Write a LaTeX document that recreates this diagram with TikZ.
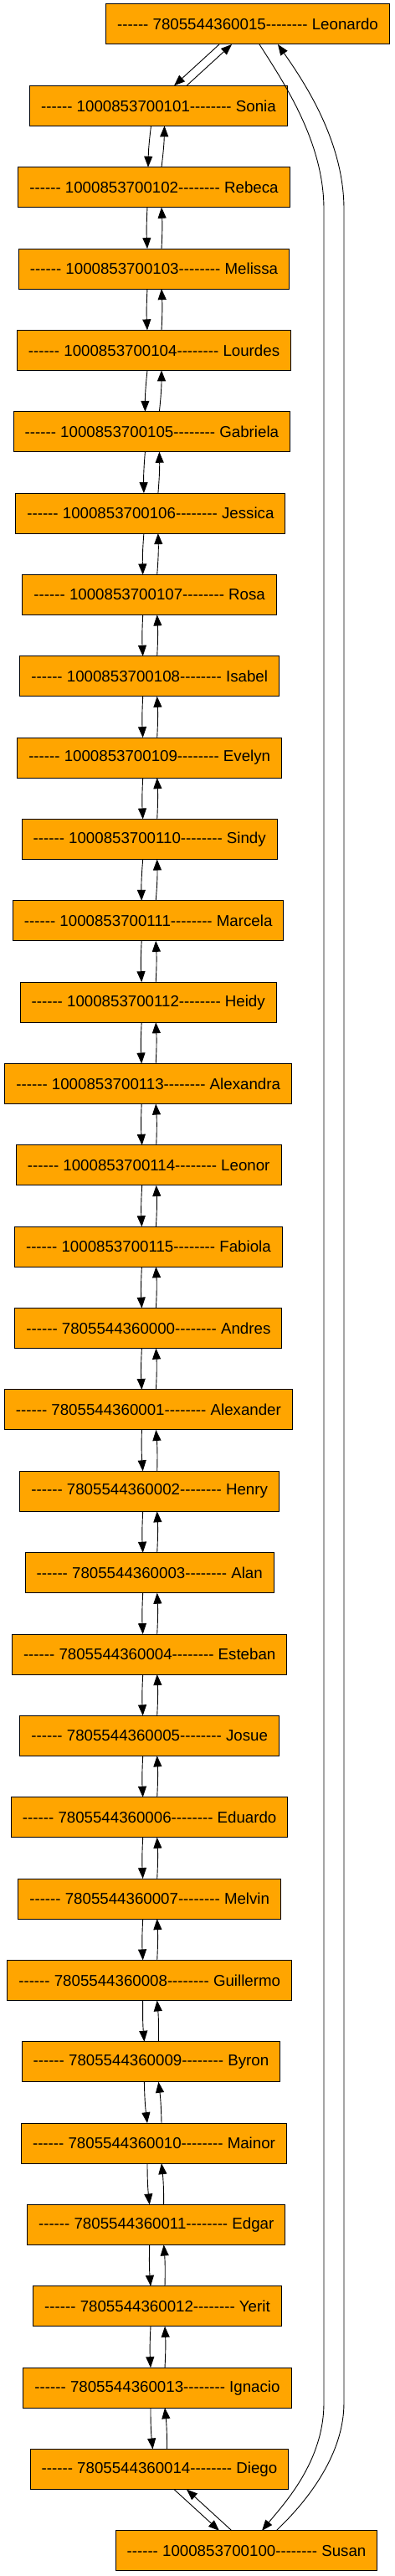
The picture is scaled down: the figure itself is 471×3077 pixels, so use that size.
\documentclass[tikz,border=0pt]{standalone}
\usepackage{fontspec}
\newfontfamily\labelfont[Ligatures=TeXOff]{Liberation Sans}
\usepackage{tikz}
\usetikzlibrary{positioning,arrows.meta}
\definecolor{gvorange}{HTML}{FFA500}

\begin{document}
\begin{tikzpicture}
        [
    x=1pt, y=-1pt,
    node distance=49.35pt,
    person/.style={draw=black, fill=gvorange, line width=1pt, outer sep=0pt, inner xsep=13.5pt, minimum height=48pt, font=\labelfont\fontsize{18.7}{22}\selectfont},
    link/.style={->, line width=0.9pt},
    >={Triangle[length=13pt, width=10pt]}
    ]

    \useasboundingbox (0,0) rectangle (471,3077);

    % Nodos de la lista
    \node [person] (leonardo) at (296,29) {------ 7805544360015-------- Leonardo};
    \node [person, below=of leonardo, xshift=-106.5pt] (sonia) {------ 1000853700101-------- Sonia};
    \node [person, below=of sonia, xshift=-5.5pt] (rebeca) {------ 1000853700102-------- Rebeca};
    \node [person, below=of rebeca] (melissa) {------ 1000853700103-------- Melissa};
    \node [person, below=of melissa] (lourdes) {------ 1000853700104-------- Lourdes};
    \node [person, below=of lourdes, xshift=-2.6pt] (gabriela) {------ 1000853700105-------- Gabriela};
    \node [person, below=of gabriela, xshift=-1.5pt] (jessica) {------ 1000853700106-------- Jessica};
    \node [person, below=of jessica, xshift=-1.2pt] (rosa) {------ 1000853700107-------- Rosa};
    \node [person, below=of rosa] (isabel) {------ 1000853700108-------- Isabel};
    \node [person, below=of isabel] (evelyn) {------ 1000853700109-------- Evelyn};
    \node [person, below=of evelyn] (sindy) {------ 1000853700110-------- Sindy};
    \node [person, below=of sindy, xshift=-1.5pt] (marcela) {------ 1000853700111-------- Marcela};
    \node [person, below=of marcela] (heidy) {------ 1000853700112-------- Heidy};
    \node [person, below=of heidy] (alexandra) {------ 1000853700113-------- Alexandra};
    \node [person, below=of alexandra, xshift=0.5pt] (leonor) {------ 1000853700114-------- Leonor};
    \node [person, below=of leonor, xshift=-0.3pt] (fabiola) {------ 1000853700115-------- Fabiola};
    \node [person, below=of fabiola] (andres) {------ 7805544360000-------- Andres};
    \node [person, below=of andres] (alexander) {------ 7805544360001-------- Alexander};
    \node [person, below=of alexander, xshift=1.3pt] (henry) {------ 7805544360002-------- Henry};
    \node [person, below=of henry] (alan) {------ 7805544360003-------- Alan};
    \node [person, below=of alan] (esteban) {------ 7805544360004-------- Esteban};
    \node [person, below=of esteban] (josue) {------ 7805544360005-------- Josue};
    \node [person, below=of josue] (eduardo) {------ 7805544360006-------- Eduardo};
    \node [person, below=of eduardo] (melvin) {------ 7805544360007-------- Melvin};
    \node [person, below=of melvin] (guillermo) {------ 7805544360008-------- Guillermo};
    \node [person, below=of guillermo, xshift=1.7pt] (byron) {------ 7805544360009-------- Byron};
    \node [person, below=of byron, xshift=3.6pt] (mainor) {------ 7805544360010-------- Mainor};
    \node [person, below=of mainor, xshift=2.7pt] (edgar) {------ 7805544360011-------- Edgar};
    \node [person, below=of edgar, xshift=1.3pt] (yerit) {------ 7805544360012-------- Yerit};
    \node [person, below=of yerit] (ignacio) {------ 7805544360013-------- Ignacio};
    \node [person, below=of ignacio, xshift=2.5pt] (diego) {------ 7805544360014-------- Diego};
    \node [person, below=of diego, xshift=104pt] (susan) {------ 1000853700100-------- Susan};

    % Enlaces de Leonardo
    \draw [link] ([xshift=-34pt]leonardo.south) -- ([xshift=18.5pt]sonia.north);
    \draw [link] ([xshift=33.5pt]sonia.north) -- ([xshift=-19pt]leonardo.south);
    \draw [link] ([xshift=14pt]leonardo.south) .. controls (340,100) and (387,170) .. (387,250) -- (387,2870) .. controls (387,2940) and (340,2990) .. ([xshift=18.5pt]susan.north);
    \draw [link] ([xshift=35.5pt]susan.north) .. controls (370,2985) and (411,2930) .. (411,2870) -- (411,250) .. controls (411,170) and (365,100) .. ([xshift=36pt]leonardo.south);
    % Enlaces siguiente y anterior
    \draw [link] ([xshift=-9pt]sonia.south) to[bend right=3] ([xshift=-7pt]rebeca.north);
    \draw [link] ([xshift=9pt]rebeca.north) to[bend right=3] ([xshift=7pt]sonia.south);
    \draw [link] ([xshift=-8pt]rebeca.south) to[bend right=3] ([xshift=-8pt]melissa.north);
    \draw [link] ([xshift=9pt]melissa.north) to[bend right=3] ([xshift=9pt]rebeca.south);
    \draw [link] ([xshift=-8pt]melissa.south) to[bend right=3] ([xshift=-8pt]lourdes.north);
    \draw [link] ([xshift=9pt]lourdes.north) to[bend right=3] ([xshift=9pt]melissa.south);
    \draw [link] ([xshift=-8pt]lourdes.south) to[bend right=3] ([xshift=-8pt]gabriela.north);
    \draw [link] ([xshift=9pt]gabriela.north) to[bend right=3] ([xshift=9pt]lourdes.south);
    \draw [link] ([xshift=-8pt]gabriela.south) to[bend right=3] ([xshift=-8pt]jessica.north);
    \draw [link] ([xshift=9pt]jessica.north) to[bend right=3] ([xshift=9pt]gabriela.south);
    \draw [link] ([xshift=-8pt]jessica.south) to[bend right=3] ([xshift=-8pt]rosa.north);
    \draw [link] ([xshift=9pt]rosa.north) to[bend right=3] ([xshift=9pt]jessica.south);
    \draw [link] ([xshift=-8pt]rosa.south) to[bend right=3] ([xshift=-8pt]isabel.north);
    \draw [link] ([xshift=9pt]isabel.north) to[bend right=3] ([xshift=9pt]rosa.south);
    \draw [link] ([xshift=-8pt]isabel.south) to[bend right=3] ([xshift=-8pt]evelyn.north);
    \draw [link] ([xshift=9pt]evelyn.north) to[bend right=3] ([xshift=9pt]isabel.south);
    \draw [link] ([xshift=-8pt]evelyn.south) to[bend right=3] ([xshift=-8pt]sindy.north);
    \draw [link] ([xshift=9pt]sindy.north) to[bend right=3] ([xshift=9pt]evelyn.south);
    \draw [link] ([xshift=-8pt]sindy.south) to[bend right=3] ([xshift=-8pt]marcela.north);
    \draw [link] ([xshift=9pt]marcela.north) to[bend right=3] ([xshift=9pt]sindy.south);
    \draw [link] ([xshift=-8pt]marcela.south) to[bend right=3] ([xshift=-8pt]heidy.north);
    \draw [link] ([xshift=9pt]heidy.north) to[bend right=3] ([xshift=9pt]marcela.south);
    \draw [link] ([xshift=-8pt]heidy.south) to[bend right=3] ([xshift=-8pt]alexandra.north);
    \draw [link] ([xshift=9pt]alexandra.north) to[bend right=3] ([xshift=9pt]heidy.south);
    \draw [link] ([xshift=-8pt]alexandra.south) to[bend right=3] ([xshift=-8pt]leonor.north);
    \draw [link] ([xshift=9pt]leonor.north) to[bend right=3] ([xshift=9pt]alexandra.south);
    \draw [link] ([xshift=-8pt]leonor.south) to[bend right=3] ([xshift=-8pt]fabiola.north);
    \draw [link] ([xshift=9pt]fabiola.north) to[bend right=3] ([xshift=9pt]leonor.south);
    \draw [link] ([xshift=-8pt]fabiola.south) to[bend right=3] ([xshift=-8pt]andres.north);
    \draw [link] ([xshift=9pt]andres.north) to[bend right=3] ([xshift=9pt]fabiola.south);
    \draw [link] ([xshift=-8pt]andres.south) to[bend right=3] ([xshift=-8pt]alexander.north);
    \draw [link] ([xshift=9pt]alexander.north) to[bend right=3] ([xshift=9pt]andres.south);
    \draw [link] ([xshift=-8pt]alexander.south) to[bend right=3] ([xshift=-8pt]henry.north);
    \draw [link] ([xshift=9pt]henry.north) to[bend right=3] ([xshift=9pt]alexander.south);
    \draw [link] ([xshift=-8pt]henry.south) to[bend right=3] ([xshift=-8pt]alan.north);
    \draw [link] ([xshift=9pt]alan.north) to[bend right=3] ([xshift=9pt]henry.south);
    \draw [link] ([xshift=-8pt]alan.south) to[bend right=3] ([xshift=-8pt]esteban.north);
    \draw [link] ([xshift=9pt]esteban.north) to[bend right=3] ([xshift=9pt]alan.south);
    \draw [link] ([xshift=-8pt]esteban.south) to[bend right=3] ([xshift=-8pt]josue.north);
    \draw [link] ([xshift=9pt]josue.north) to[bend right=3] ([xshift=9pt]esteban.south);
    \draw [link] ([xshift=-8pt]josue.south) to[bend right=3] ([xshift=-8pt]eduardo.north);
    \draw [link] ([xshift=9pt]eduardo.north) to[bend right=3] ([xshift=9pt]josue.south);
    \draw [link] ([xshift=-8pt]eduardo.south) to[bend right=3] ([xshift=-8pt]melvin.north);
    \draw [link] ([xshift=9pt]melvin.north) to[bend right=3] ([xshift=9pt]eduardo.south);
    \draw [link] ([xshift=-8pt]melvin.south) to[bend right=3] ([xshift=-8pt]guillermo.north);
    \draw [link] ([xshift=9pt]guillermo.north) to[bend right=3] ([xshift=9pt]melvin.south);
    \draw [link] ([xshift=-8pt]guillermo.south) to[bend right=3] ([xshift=-8pt]byron.north);
    \draw [link] ([xshift=9pt]byron.north) to[bend right=3] ([xshift=9pt]guillermo.south);
    \draw [link] ([xshift=-8pt]byron.south) to[bend right=3] ([xshift=-8pt]mainor.north);
    \draw [link] ([xshift=9pt]mainor.north) to[bend right=3] ([xshift=9pt]byron.south);
    \draw [link] ([xshift=-8pt]mainor.south) to[bend right=3] ([xshift=-8pt]edgar.north);
    \draw [link] ([xshift=9pt]edgar.north) to[bend right=3] ([xshift=9pt]mainor.south);
    \draw [link] ([xshift=-8pt]edgar.south) to[bend right=3] ([xshift=-8pt]yerit.north);
    \draw [link] ([xshift=9pt]yerit.north) to[bend right=3] ([xshift=9pt]edgar.south);
    \draw [link] ([xshift=-8pt]yerit.south) to[bend right=3] ([xshift=-8pt]ignacio.north);
    \draw [link] ([xshift=9pt]ignacio.north) to[bend right=3] ([xshift=9pt]yerit.south);
    \draw [link] ([xshift=-8pt]ignacio.south) to[bend right=3] ([xshift=-8pt]diego.north);
    \draw [link] ([xshift=9pt]diego.north) to[bend right=3] ([xshift=9pt]ignacio.south);
    % Enlaces de Susan
    \draw [link] ([xshift=17.5pt]diego.south) -- ([xshift=-32.5pt]susan.north);
    \draw [link] ([xshift=-17.5pt]susan.north) -- ([xshift=32.5pt]diego.south);
\end{tikzpicture}
\end{document}
